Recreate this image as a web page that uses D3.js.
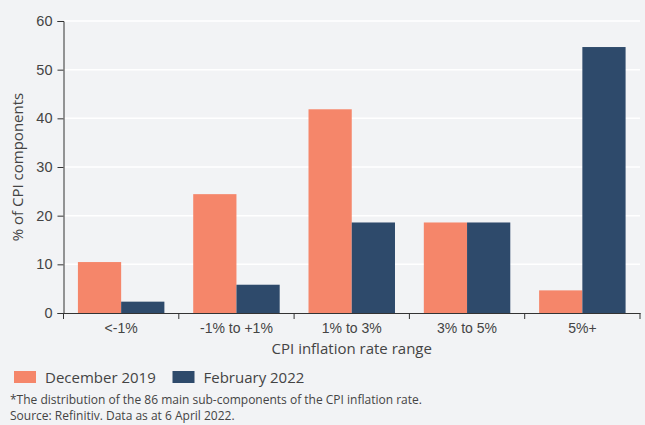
<!DOCTYPE html>
<html lang="en">
  <head>
    <meta charset="UTF-8" />
    <title>CPI components by inflation range</title>
    <script src="https://cdnjs.cloudflare.com/ajax/libs/d3/7.9.0/d3.min.js"></script>
    <style>
      html,
      body {
        margin: 0;
        padding: 0;
        background: #f2f3f5;
      }
      svg {
        display: block;
        font-family: "Open Sans", "Noto Sans", sans-serif;
      }
      .tick text {
        fill: #444;
      }
    </style>
  </head>
  <body>
    <svg id="chart" width="645" height="425"></svg>

    <script>
      /* ---------- data ---------- */
      const categories = ["<-1%", "-1% to +1%", "1% to 3%", "3% to 5%", "5%+"];
      const seriesNames = ["December 2019", "February 2022"];
      // share of the 86 sub-components, in %
      const dec2019 = [10.47, 24.42, 41.86, 18.6, 4.65];
      const feb2022 = [2.33, 5.81, 18.6, 18.6, 54.65];
      const yTicks = [0, 10, 20, 30, 40, 50, 60];
      const colors = ["#f5866a", "#2e4a6b"];

      /* ---------- layout ---------- */
      const svg = d3.select("#chart");
      const margin = { left: 63.5, right: 5, top: 21, bottom: 112 };
      const W = 645,
        H = 425;

      const x = d3
        .scaleBand()
        .domain(categories)
        .range([margin.left, W - margin.right])
        .paddingInner(0.25)
        .paddingOuter(0.125);

      const xSub = d3
        .scaleBand()
        .domain(seriesNames)
        .range([0, x.bandwidth()]);

      const y = d3
        .scaleLinear()
        .domain([0, 60])
        .range([H - margin.bottom, margin.top]);

      // gridlines
      svg
        .append("g")
        .selectAll("line")
        .data(yTicks.filter((d) => d > 0))
        .join("line")
        .attr("x1", margin.left)
        .attr("x2", W - margin.right)
        .attr("y1", (d) => y(d))
        .attr("y2", (d) => y(d))
        .attr("stroke", "#ffffff")
        .attr("stroke-width", 1.5);

      // bars
      const rows = categories.map((c, i) => ({
        cat: c,
        vals: [dec2019[i], feb2022[i]],
      }));

      svg
        .append("g")
        .selectAll("g")
        .data(rows)
        .join("g")
        .attr("transform", (d) => `translate(${x(d.cat)},0)`)
        .selectAll("rect")
        .data((d) => d.vals.map((v, j) => ({ name: seriesNames[j], v, j })))
        .join("rect")
        .attr("x", (d) => xSub(d.name))
        .attr("width", xSub.bandwidth())
        .attr("y", (d) => y(d.v))
        .attr("height", (d) => y(0) - y(d.v))
        .attr("fill", (d) => colors[d.j]);

      // y axis
      const yAxis = svg
        .append("g")
        .attr("transform", `translate(${margin.left},0)`)
        .call(d3.axisLeft(y).tickValues(yTicks).tickSize(6).tickPadding(5));
      yAxis.selectAll("text").attr("font-size", 14.5);
      yAxis.selectAll("line, path").attr("stroke", "#333");

      // x axis, ticks at band boundaries
      const xAxis = svg
        .append("g")
        .attr("transform", `translate(0,${y(0)})`)
        .call(d3.axisBottom(x).tickSize(0).tickPadding(10));
      xAxis.select(".domain").attr("stroke", "#333");
      xAxis.selectAll("text").attr("font-size", 14);

      const step = x.step();
      const x0 = x(categories[0]) - x.paddingOuter() * step;
      const edges = d3.range(categories.length + 1).map((i) => x0 + i * step);
      xAxis
        .selectAll("line.edge")
        .data(edges)
        .join("line")
        .attr("class", "edge")
        .attr("x1", (d) => d)
        .attr("x2", (d) => d)
        .attr("y1", 0)
        .attr("y2", 6)
        .attr("stroke", "#333");

      // axis titles
      svg
        .append("text")
        .attr("x", (margin.left + W - margin.right) / 2)
        .attr("y", 354)
        .attr("text-anchor", "middle")
        .attr("font-size", 15)
        .attr("fill", "#444")
        .text("CPI inflation rate range");

      svg
        .append("text")
        .attr("transform", `translate(23,${(y(0) + y(60)) / 2}) rotate(-90)`)
        .attr("text-anchor", "middle")
        .attr("font-size", 15)
        .attr("fill", "#444")
        .text("% of CPI components");

      // legend
      const legendX = [14, 172.5];
      const legend = svg
        .append("g")
        .selectAll("g")
        .data(seriesNames)
        .join("g")
        .attr("transform", (d, i) => `translate(${legendX[i]},371)`);
      legend
        .append("rect")
        .attr("width", 22)
        .attr("height", 12)
        .attr("fill", (d, i) => colors[i]);
      legend
        .append("text")
        .attr("x", 31)
        .attr("y", 11.5)
        .attr("font-size", 15)
        .attr("fill", "#444")
        .text((d) => d);

      // footnote
      const notes = [
        "*The distribution of the 86 main sub-components of the CPI inflation rate.",
        "Source: Refinitiv. Data as at 6 April 2022.",
      ];
      svg
        .append("g")
        .selectAll("text")
        .data(notes)
        .join("text")
        .attr("x", 10)
        .attr("y", (d, i) => 403.5 + i * 16.5)
        .attr("font-size", 12)
        .attr("fill", "#444")
        .text((d) => d);
    </script>
  </body>
</html>
